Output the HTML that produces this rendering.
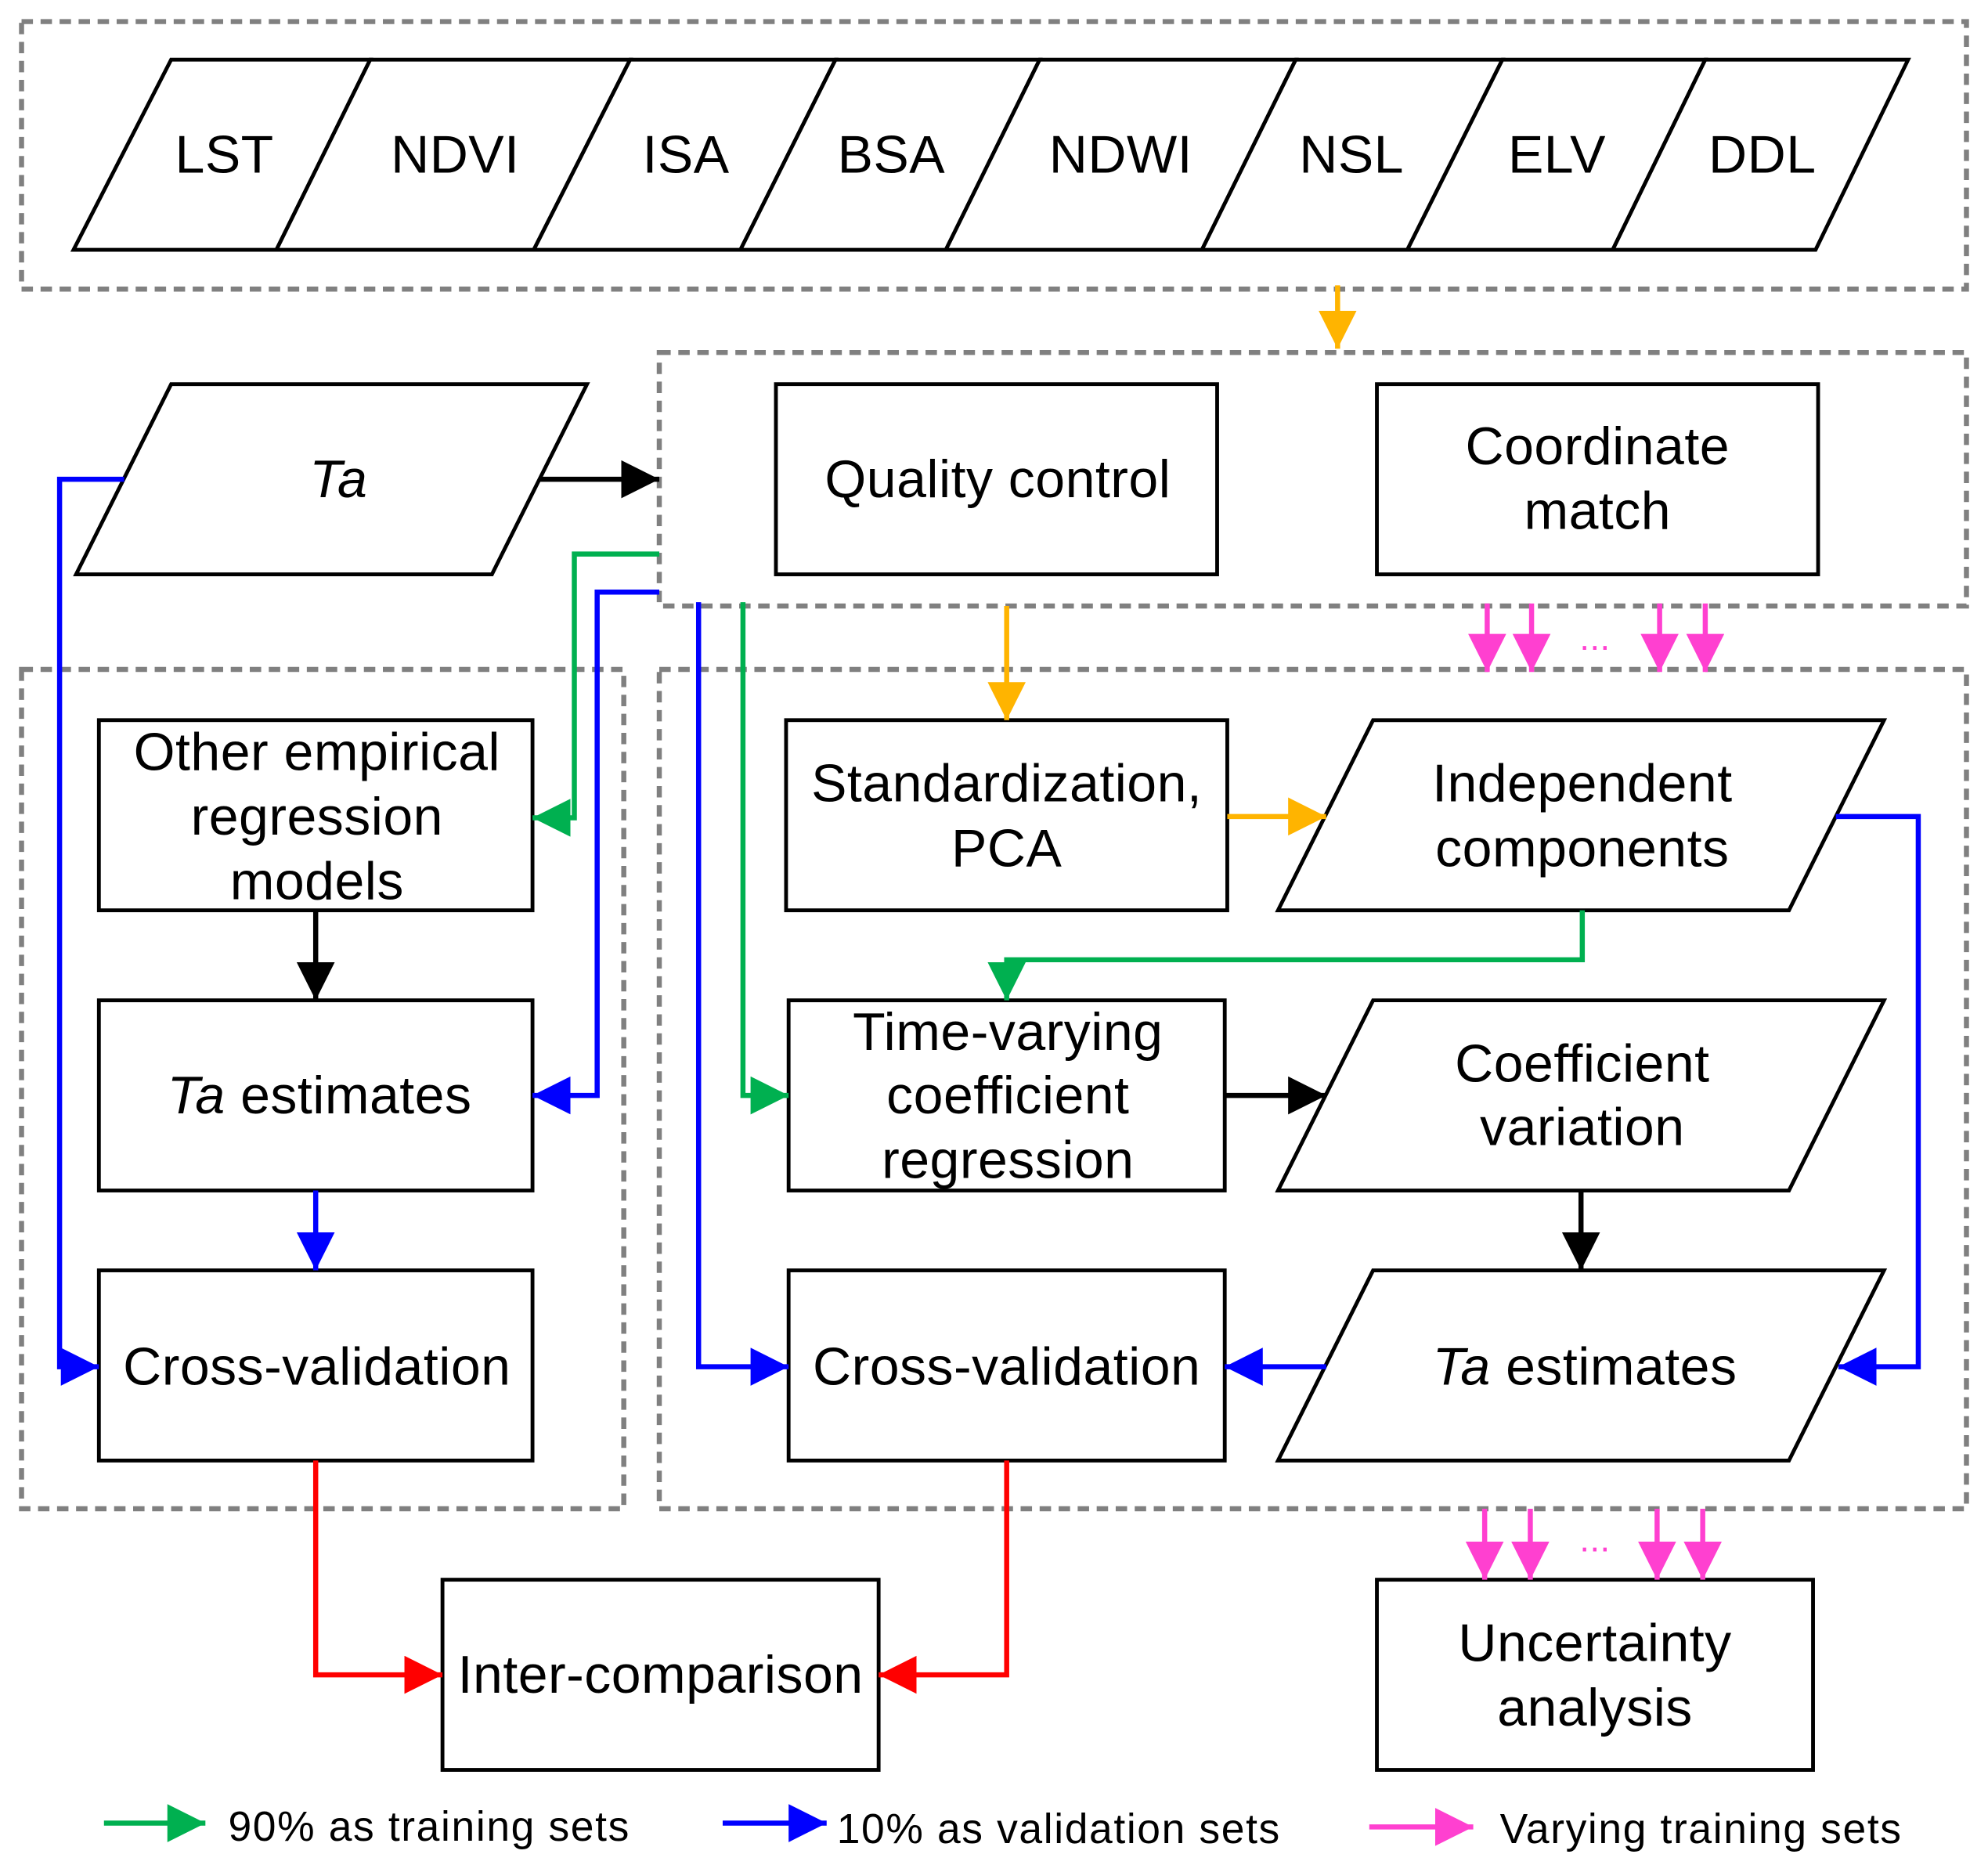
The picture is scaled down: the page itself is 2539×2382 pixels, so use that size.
<!DOCTYPE html>
<html><head><meta charset="utf-8"><style>
html,body{margin:0;padding:0;background:#fff}
svg{display:block}
text{font-family:"Liberation Sans",Arial,sans-serif;font-size:42px;letter-spacing:0.3px;fill:#000;text-anchor:middle;dominant-baseline:central}
.lg{font-size:33px;letter-spacing:1px;text-anchor:start}
</style></head><body>
<svg width="2539" height="2382" viewBox="0 0 1568 1471" xmlns="http://www.w3.org/2000/svg">
<defs>
<marker id="k" markerUnits="userSpaceOnUse" markerWidth="32" markerHeight="32" refX="30" refY="15" orient="auto"><path d="M0,0 L30,15 L0,30 z" fill="#000"/></marker>
<marker id="o" markerUnits="userSpaceOnUse" markerWidth="32" markerHeight="32" refX="30" refY="15" orient="auto"><path d="M0,0 L30,15 L0,30 z" fill="#FFB400"/></marker>
<marker id="g" markerUnits="userSpaceOnUse" markerWidth="32" markerHeight="32" refX="30" refY="15" orient="auto"><path d="M0,0 L30,15 L0,30 z" fill="#00B050"/></marker>
<marker id="b" markerUnits="userSpaceOnUse" markerWidth="32" markerHeight="32" refX="30" refY="15" orient="auto"><path d="M0,0 L30,15 L0,30 z" fill="#0000FF"/></marker>
<marker id="p" markerUnits="userSpaceOnUse" markerWidth="32" markerHeight="32" refX="30" refY="15" orient="auto"><path d="M0,0 L30,15 L0,30 z" fill="#FF40D0"/></marker>
<marker id="r" markerUnits="userSpaceOnUse" markerWidth="32" markerHeight="32" refX="30" refY="15" orient="auto"><path d="M0,0 L30,15 L0,30 z" fill="#FF0000"/></marker>
</defs>
<g fill="none" stroke="#808080" stroke-width="4" stroke-dasharray="9,6">
<rect x="17" y="17" width="1534" height="211"/>
<rect x="520" y="278" width="1031" height="200"/>
<rect x="17" y="528" width="475" height="662"/>
<rect x="520" y="528" width="1031" height="662"/>
</g>
<g fill="#fff" stroke="#000" stroke-width="3">
<polygon points="58,197 135,47 292,47 218,197"/>
<polygon points="218,197 292,47 497,47 421,197"/>
<polygon points="421,197 497,47 659,47 584,197"/>
<polygon points="584,197 659,47 820,47 746,197"/>
<polygon points="746,197 820,47 1022,47 948,197"/>
<polygon points="948,197 1022,47 1185,47 1110,197"/>
<polygon points="1110,197 1185,47 1345,47 1272,197"/>
<polygon points="1272,197 1345,47 1505,47 1432,197"/>
<polygon points="60,453 135,303 463,303 388,453"/>
<rect x="612" y="303" width="348" height="150"/>
<rect x="1086" y="303" width="348" height="150"/>
<rect x="78" y="568" width="342" height="150"/>
<rect x="78" y="789" width="342" height="150"/>
<rect x="78" y="1002" width="342" height="150"/>
<rect x="620" y="568" width="348" height="150"/>
<polygon points="1008,718 1083,568 1486,568 1411,718"/>
<rect x="622" y="789" width="344" height="150"/>
<polygon points="1008,939 1083,789 1486,789 1411,939"/>
<rect x="622" y="1002" width="344" height="150"/>
<polygon points="1008,1152 1083,1002 1486,1002 1411,1152"/>
<rect x="349" y="1246" width="344" height="150"/>
<rect x="1086" y="1246" width="344" height="150"/>
</g>
<g fill="none" stroke-width="4">
<line x1="1055" y1="225" x2="1055" y2="275" stroke="#FFB400" marker-end="url(#o)"/>
<line x1="794" y1="478" x2="794" y2="568" stroke="#FFB400" marker-end="url(#o)"/>
<line x1="968" y1="644" x2="1046" y2="644" stroke="#FFB400" marker-end="url(#o)"/>
<line x1="425" y1="378" x2="520" y2="378" stroke="#000" marker-end="url(#k)"/>
<line x1="249" y1="718" x2="249" y2="789" stroke="#000" marker-end="url(#k)"/>
<line x1="966" y1="864" x2="1046" y2="864" stroke="#000" marker-end="url(#k)"/>
<line x1="1247" y1="939" x2="1247" y2="1002" stroke="#000" marker-end="url(#k)"/>
<polyline points="520,437 453,437 453,645 420,645" stroke="#00B050" marker-end="url(#g)"/>
<polyline points="1248,718 1248,757 794,757 794,789" stroke="#00B050" marker-end="url(#g)"/>
<polyline points="586,475 586,864 622,864" stroke="#00B050" marker-end="url(#g)"/>
<polyline points="520,467 471,467 471,864 420,864" stroke="#0000FF" marker-end="url(#b)"/>
<line x1="249" y1="939" x2="249" y2="1002" stroke="#0000FF" marker-end="url(#b)"/>
<polyline points="98,378 47,378 47,1078 78,1078" stroke="#0000FF" marker-end="url(#b)"/>
<polyline points="1448,644 1513,644 1513,1078 1450,1078" stroke="#0000FF" marker-end="url(#b)"/>
<polyline points="551,475 551,1078 622,1078" stroke="#0000FF" marker-end="url(#b)"/>
<line x1="1046" y1="1078" x2="966" y2="1078" stroke="#0000FF" marker-end="url(#b)"/>
<polyline points="249,1152 249,1321 349,1321" stroke="#FF0000" marker-end="url(#r)"/>
<polyline points="794,1152 794,1321 693,1321" stroke="#FF0000" marker-end="url(#r)"/>
<g stroke="#FF40D0">
<line x1="1173" y1="476" x2="1173" y2="530" marker-end="url(#p)"/>
<line x1="1208" y1="476" x2="1208" y2="530" marker-end="url(#p)"/>
<line x1="1309" y1="476" x2="1309" y2="530" marker-end="url(#p)"/>
<line x1="1345" y1="476" x2="1345" y2="530" marker-end="url(#p)"/>
<line x1="1171" y1="1190" x2="1171" y2="1246" marker-end="url(#p)"/>
<line x1="1207" y1="1190" x2="1207" y2="1246" marker-end="url(#p)"/>
<line x1="1307" y1="1190" x2="1307" y2="1246" marker-end="url(#p)"/>
<line x1="1343" y1="1190" x2="1343" y2="1246" marker-end="url(#p)"/>
<line x1="1080" y1="1441" x2="1162" y2="1441" marker-end="url(#p)"/>
</g>
<line x1="82" y1="1438" x2="162" y2="1438" stroke="#00B050" marker-end="url(#g)"/>
<line x1="570" y1="1438" x2="652" y2="1438" stroke="#0000FF" marker-end="url(#b)"/>
</g>
<text x="1258" y="503" style="fill:#FF40D0;font-size:28px">...</text>
<text x="1258" y="1214" style="fill:#FF40D0;font-size:28px">...</text>
<text x="177" y="122">LST</text>
<text x="359" y="122">NDVI</text>
<text x="541" y="122">ISA</text>
<text x="703" y="122">BSA</text>
<text x="884" y="122">NDWI</text>
<text x="1066" y="122">NSL</text>
<text x="1228" y="122">ELV</text>
<text x="1390" y="122">DDL</text>
<text x="267" y="378" font-style="italic">Ta</text>
<text x="787" y="378">Quality control</text>
<text x="1260" y="352">Coordinate</text>
<text x="1260" y="403">match</text>
<text x="250" y="593">Other empirical</text>
<text x="250" y="644">regression</text>
<text x="250" y="695">models</text>
<text x="252" y="864"><tspan font-style="italic">Ta</tspan> estimates</text>
<text x="250" y="1078">Cross-validation</text>
<text x="794" y="618">Standardization,</text>
<text x="794" y="669">PCA</text>
<text x="1248" y="618">Independent</text>
<text x="1248" y="669">components</text>
<text x="795" y="814">Time-varying</text>
<text x="795" y="864">coefficient</text>
<text x="795" y="915">regression</text>
<text x="1248" y="839">Coefficient</text>
<text x="1248" y="889">variation</text>
<text x="1250" y="1078"><tspan font-style="italic">Ta</tspan> estimates</text>
<text x="794" y="1078">Cross-validation</text>
<text x="521" y="1321">Inter-comparison</text>
<text x="1258" y="1296">Uncertainty</text>
<text x="1258" y="1347">analysis</text>
<text class="lg" x="180" y="1441">90% as training sets</text>
<text class="lg" x="660" y="1443">10% as validation sets</text>
<text class="lg" x="1183" y="1443">Varying training sets</text>
</svg>
</body></html>
